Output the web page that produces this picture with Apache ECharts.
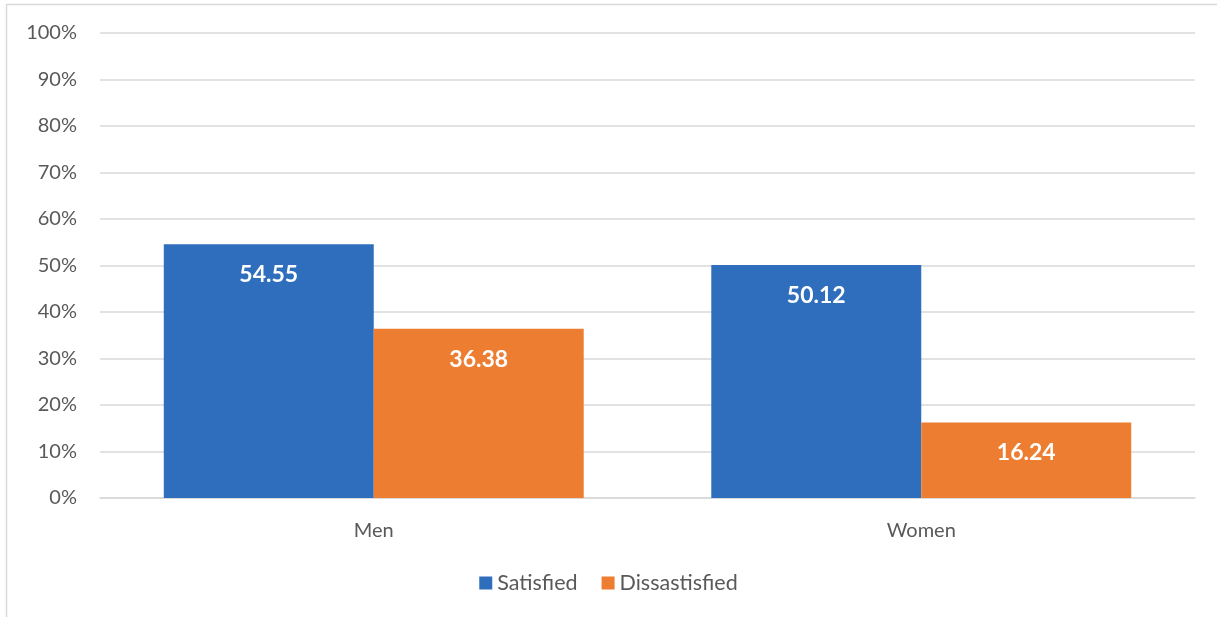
<!DOCTYPE html>
<html>
<head>
<meta charset="utf-8">
<script src="https://cdn.jsdelivr.net/npm/echarts@6/dist/echarts.min.js"></script>
<style>
  html, body { margin: 0; padding: 0; background: #fff; }
  #chart { width: 1217px; height: 617px; }
</style>
</head>
<body>
<div id="chart"></div>
<script>
// Satisfaction by gender (percent)
const categories = ['Men', 'Women'];
const satisfied = [54.55, 50.12];
const dissatisfied = [36.38, 16.24];
const seriesNames = ['Satisfied', 'Dissastisfied'];

const FONT = 'Lato, "Noto Sans", sans-serif';

const chart = echarts.init(document.getElementById('chart'));

const barLabel = {
  show: true,
  position: 'insideTop',
  distance: 19,
  color: '#ffffff',
  fontFamily: FONT,
  fontWeight: 'bold',
  fontSize: 23,
  formatter: p => p.value.toFixed(2)
};

chart.setOption({
  animation: false,
  backgroundColor: '#ffffff',
  graphic: [{
    type: 'rect',
    shape: { x: 6.5, y: 4.5, width: 1230, height: 640 },
    style: { fill: 'none', stroke: '#d9d9d9', lineWidth: 1.5 },
    silent: true
  }],
  legend: {
    data: seriesNames,
    bottom: 18,
    left: 'center',
    itemWidth: 13,
    itemHeight: 13,
    itemGap: 24,
    icon: 'rect',
    textStyle: { fontFamily: FONT, fontSize: 21.5, color: '#595959' }
  },
  grid: { left: 100, right: 22, top: 33, bottom: 119, containLabel: false },
  xAxis: {
    type: 'category',
    data: categories,
    axisLine: { lineStyle: { color: '#d9d9d9', width: 1.5 } },
    axisTick: { show: false },
    axisLabel: { fontFamily: FONT, fontSize: 20, color: '#595959', margin: 23 }
  },
  yAxis: {
    type: 'value',
    min: 0,
    max: 100,
    interval: 10,
    axisLine: { show: false },
    axisTick: { show: false },
    splitLine: { lineStyle: { color: '#d9d9d9', width: 1.5 } },
    axisLabel: {
      fontFamily: FONT, fontSize: 20, color: '#595959', margin: 23,
      formatter: v => v + '%'
    }
  },
  series: [
    {
      name: seriesNames[0],
      type: 'bar',
      data: satisfied,
      itemStyle: { color: '#2f6ebd' },
      barGap: '0%',
      barCategoryGap: '23.3%',
      label: barLabel
    },
    {
      name: seriesNames[1],
      type: 'bar',
      data: dissatisfied,
      itemStyle: { color: '#ed7d31' },
      label: barLabel
    }
  ]
});
</script>
</body>
</html>
